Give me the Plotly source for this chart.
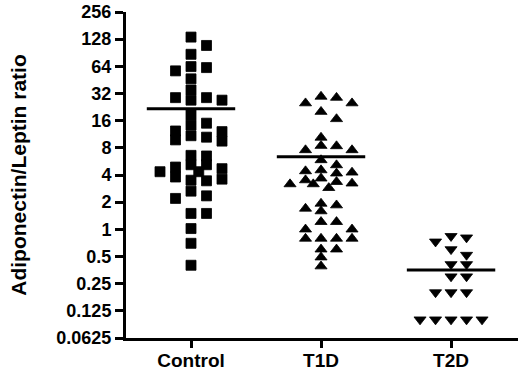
import numpy as np
import plotly.graph_objects as go

# ---------------- data ----------------
categories = ["Control", "T1D", "T2D"]

control = [135, 109, 87, 63.6, 62, 57, 46.5, 35, 28.8, 28.8, 27, 27, 18.5,
           15.0, 14.3, 12.3, 12.1, 10.9, 10.5, 9.8, 9.5,
           6.6, 6.5, 5.2, 4.9, 5.2, 4.7, 4.35, 4.35, 3.8, 3.6, 3.45, 3.5,
           2.65, 2.35, 2.2, 1.5, 1.5, 1.02, 0.70, 0.40]

t1d = [29.6, 28.8, 25.0, 25.0, 20.1, 16.7, 10.4, 8.44, 8.37, 7.56, 7.56,
       5.86, 5.15, 4.53, 4.42, 4.27, 4.17, 3.67, 3.51, 3.36, 3.23, 3.17, 3.17,
       2.88, 1.93, 1.85, 1.70, 1.59, 1.21, 1.21, 1.0, 1.0, 0.79, 0.79, 0.79,
       0.79, 0.60, 0.60, 0.49, 0.39]

t2d = [0.84, 0.81, 0.73, 0.60, 0.52, 0.41, 0.41, 0.30, 0.30, 0.20, 0.20,
       0.20, 0.10, 0.10, 0.10, 0.10, 0.10]

y_tick_values = [0.0625, 0.125, 0.25, 0.5, 1, 2, 4, 8, 16, 32, 64, 128, 256]
y_tick_labels = ["0.0625", "0.125", "0.25", "0.5", "1", "2", "4", "8",
                 "16", "32", "64", "128", "256"]

# ---------------- layout geometry ----------------
W, H = 520, 372
M = dict(l=126, r=2, t=12, b=34)
X_RANGE = [-0.5, 2.515]
EPS = 1e-6
Y_RANGE = [np.log10(y_tick_values[0]) - EPS, np.log10(y_tick_values[-1]) + EPS]

plot_w = W - M["l"] - M["r"]
plot_h = H - M["t"] - M["b"]
px_per_x = plot_w / (X_RANGE[1] - X_RANGE[0])
px_per_oct = plot_h / np.log2(y_tick_values[-1] / y_tick_values[0])

CANDIDATES = [0, 1, -1, 2, -2, 0.5, -0.5, 1.5, -1.5]


def swarm(values, slot_px=15.5, hsep=11, vsep=9):
    """Greedy column-scatter layout: returns x offsets in data units."""
    vals = np.asarray(values, dtype=float)
    order = np.argsort(-vals, kind="stable")
    placed = []
    offs = np.zeros(len(vals))
    for i in order:
        y = np.log2(vals[i]) * px_per_oct
        best, best_cost = None, None
        for k in CANDIDATES:
            dx = k * slot_px
            cost = 0.0
            for pdx, py in placed:
                ox = hsep - abs(dx - pdx)
                oy = vsep - abs(y - py)
                if ox > 0 and oy > 0:
                    cost += ox * oy
            if cost == 0:
                best = dx
                break
            if best_cost is None or cost < best_cost:
                best, best_cost = dx, cost
        placed.append((best, y))
        offs[i] = best / px_per_x
    return offs


groups = [control, t1d, t2d]
symbols = ["square", "triangle-up", "triangle-down"]
sizes = [10, 10.5, 10.5]

font_fam = "Liberation Sans, Arial, sans-serif"

fig = go.Figure()
for gi, (vals, sym, sz) in enumerate(zip(groups, symbols, sizes)):
    offs = swarm(vals, vsep=8.5 if sym == "square" else 7.5)
    fig.add_trace(go.Scatter(
        x=gi + offs, y=vals, mode="markers",
        marker=dict(symbol=sym, size=sz, color="black",
                    line=dict(width=0.8, color="black")),
        showlegend=False, hoverinfo="y"))
    m = float(np.mean(vals))
    fig.add_trace(go.Scatter(
        x=[gi - 0.34, gi + 0.34], y=[m, m], mode="lines",
        line=dict(color="black", width=3), showlegend=False, hoverinfo="skip"))

fig.update_layout(
    width=W, height=H, margin=M,
    paper_bgcolor="white", plot_bgcolor="white",
    font=dict(family=font_fam, color="black"),
    xaxis=dict(range=X_RANGE, tickvals=[0, 1, 2], ticktext=categories,
               automargin=False,
               showline=True, linewidth=3, linecolor="black",
               ticks="outside", ticklen=7, tickwidth=3, tickcolor="black",
               ticklabelstandoff=-4,
               showgrid=False, zeroline=False,
               tickfont=dict(family=font_fam, size=19, weight="bold",
                             color="black")),
    yaxis=dict(type="log", range=Y_RANGE, tickvals=y_tick_values,
               ticktext=y_tick_labels, automargin=False,
               showline=True, linewidth=3, linecolor="black",
               ticks="outside", ticklen=8, tickwidth=3, tickcolor="black",
               showgrid=False, zeroline=False,
               tickfont=dict(family=font_fam, size=18, weight="bold",
                             color="black"),
               title=dict(text="Adiponectin/Leptin ratio", standoff=24,
                          font=dict(family=font_fam, size=21, weight="bold",
                                    color="black"))),
)

# remove the browser's default 8px page margin so the figure fills the window
fig.write_html("out.html", config={"displayModeBar": False},
               post_script="document.body.style.margin='0';")
